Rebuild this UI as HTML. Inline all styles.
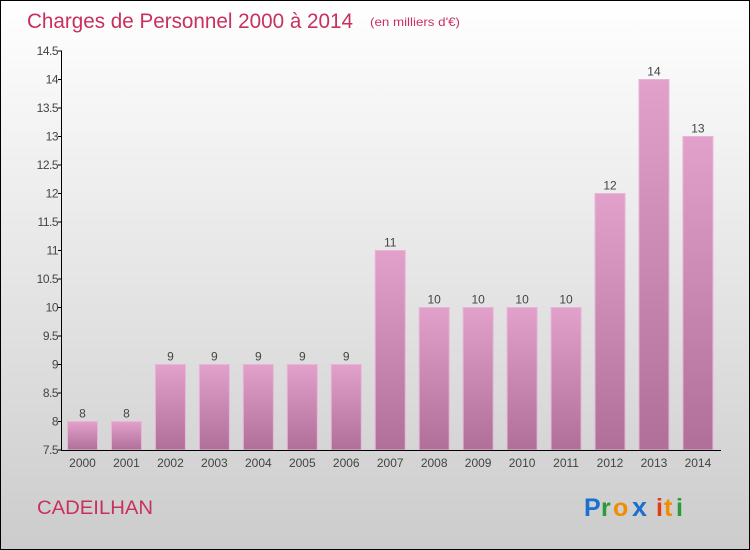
<!DOCTYPE html>
<html><head><meta charset="utf-8"><style>
body{margin:0}
#c{width:748px;height:548px;border:1px solid #000;background:linear-gradient(#fff,#ccc);position:relative;font-family:"Liberation Sans",sans-serif;overflow:hidden}
</style></head><body>
<div id="c">
<svg width="748" height="548" xmlns="http://www.w3.org/2000/svg">
<defs><linearGradient id="bg" x1="0" y1="0" x2="0" y2="1"><stop offset="0" stop-color="#e2a1cb"/><stop offset="1" stop-color="#b06f98"/></linearGradient></defs>
<text x="26" y="27" font-size="21" fill="#c8305e" textLength="326" lengthAdjust="spacingAndGlyphs">Charges de Personnel 2000 à 2014</text>
<text x="369" y="25" font-size="12" fill="#c8305e" textLength="90" lengthAdjust="spacingAndGlyphs">(en milliers d'€)</text>
<g id="plot"></g>
<text x="36" y="513" font-size="19" fill="#c8305e" textLength="116" lengthAdjust="spacingAndGlyphs">CADEILHAN</text>
<g font-size="25" font-weight="bold" font-family="Liberation Sans,sans-serif">
<text x="583" y="515" fill="#1a6fcf">P</text><text x="600" y="515" fill="#2a9a3a">r</text><text x="612" y="515" fill="#f28c00">o</text><text x="631" y="515" fill="#1a6fcf" font-size="27">x</text><text x="655" y="515" fill="#e83a10">i</text><text x="663" y="515" fill="#f28c00">t</text><text x="675" y="515" fill="#2a9a3a">i</text></g>
</svg></div>
<script>
const categories=["2000","2001","2002","2003","2004","2005","2006","2007","2008","2009","2010","2011","2012","2013","2014"];
const values=[8,8,9,9,9,9,9,11,10,10,10,10,12,14,13];
const yTicks=[7.5,8,8.5,9,9.5,10,10.5,11,11.5,12,12.5,13,13.5,14,14.5];
const NS="http://www.w3.org/2000/svg";
const g=document.getElementById('plot');
const y=v=>449-(v-7.5)*(399/7);
const x=i=>81.5+i*43.96;
function mk(t,a){const e=document.createElementNS(NS,t);for(const k in a)e.setAttribute(k,a[k]);g.appendChild(e);return e;}
values.forEach((v,i)=>{
 const r=mk('rect',{x:x(i)-15,y:y(v),width:30,height:y(7.5)-y(v),fill:'url(#bg)',stroke:'#e9b5d6','stroke-width':1});
 
 
 const t=mk('text',{x:x(i),y:y(v)-4,'text-anchor':'middle','font-size':12,fill:'#444'});t.textContent=v;
 
 
 const c=mk('text',{x:x(i),y:466,'text-anchor':'middle','font-size':12,fill:'#444'});c.textContent=categories[i];
 
 
});
yTicks.forEach(v=>{
 const t=mk('text',{x:57,y:y(v)+4,'text-anchor':'end','font-size':12,fill:'#444','letter-spacing':'-0.5'});t.textContent=v;
 
 
 const l=mk('line',{x1:57,x2:61,y1:y(v),y2:y(v),stroke:'#000'});
 
 
});
const ya=mk('line',{x1:60.5,x2:60.5,y1:y(14.5),y2:y(7.5),stroke:'#000'});


const xa=mk('line',{x1:60,x2:720,y1:y(7.5)+0.5,y2:y(7.5)+0.5,stroke:'#000'});


</script>
</body></html>
